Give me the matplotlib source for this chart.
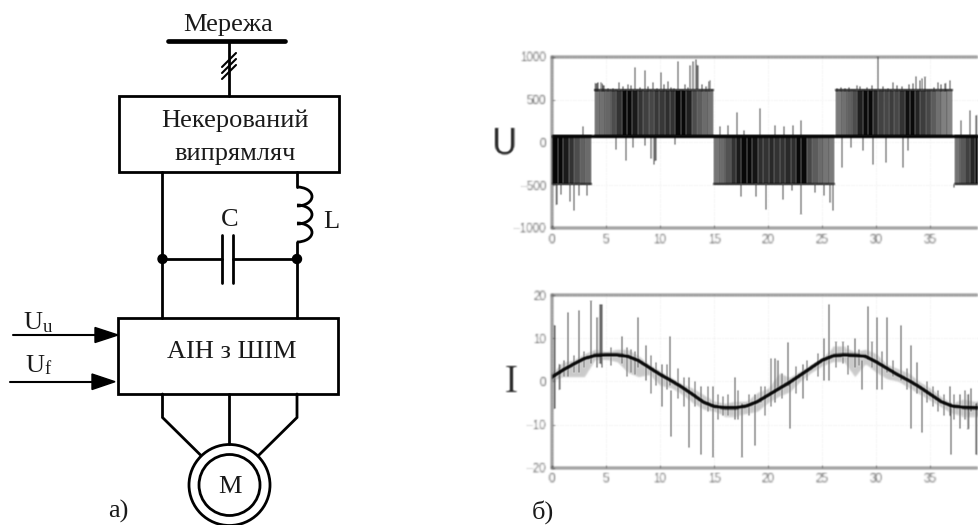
import numpy as np
import matplotlib
matplotlib.use("Agg")
import matplotlib.pyplot as plt
from matplotlib.patches import Arc, Circle, Polygon, Rectangle

W, H = 979, 525
SERIF = "Liberation Serif"
SANS = "Liberation Sans"

# voltage trace: dark PWM bands
u_band_start = [0.0, 3.95, 15.0, 26.3, 37.3]
u_band_end = [3.6, 14.9, 26.1, 37.0, 40.0]
u_band_low = [-490, 70, -490, 70, -490]
u_band_high = [70, 610, 70, 610, 70]
u_band_shades = [
    [0.02, 0.03, 0.1, 0.2, 0.3, 0.38, 0.42],
    [0.46, 0.44, 0.4, 0.3, 0.2, 0.03, 0.03, 0.1, 0.2, 0.25, 0.28, 0.22, 0.22, 0.18, 0.2, 0.03, 0.03, 0.12, 0.3, 0.36, 0.42, 0.45],
    [0.46, 0.42, 0.32, 0.2, 0.1, 0.03, 0.03, 0.08, 0.18, 0.2, 0.16, 0.2, 0.2, 0.16, 0.18, 0.03, 0.03, 0.28, 0.36, 0.42, 0.46, 0.48],
    [0.48, 0.44, 0.38, 0.3, 0.12, 0.04, 0.03, 0.16, 0.26, 0.28, 0.24, 0.28, 0.2, 0.06, 0.04, 0.14, 0.24, 0.28, 0.36, 0.44, 0.5, 0.52],
    [0.45, 0.35, 0.25, 0.15, 0.05, 0.03],
]
u_base_x = [0, 40]
u_base_y = [70, 70]

# voltage spikes, each from a band edge to a tip
u_spike_x = [4.5, 6.2, 7.0, 7.7, 8.6, 9.3, 10.1, 10.7, 11.7, 12.3, 12.8, 13.0, 13.3, 13.5, 14.6,
             15.5, 16.3, 17.1, 17.8, 19.2, 20.6, 21.5, 22.3, 23.0, 2.9,
             5.9, 6.8, 7.5, 8.6, 9.2, 9.4, 9.6, 11.4,
             0.5, 0.8, 1.7, 2.0, 2.5, 3.2,
             17.5, 18.9, 19.8, 21.4, 22.2, 23.0, 24.3, 25.2, 25.7, 26.0,
             28.2, 30.2, 31.5, 33.7, 34.2, 35.7, 36.8,
             26.8, 27.7, 28.8, 29.7, 30.9, 32.5, 32.9,
             37.8, 38.7, 39.2, 37.2]
u_spike_from = [610] * 15 + [70] * 10 + [70] * 8 + [-490] * 6 + [-490] * 10 + [610] * 7 + [70] * 7 + [70] * 3 + [-490]
u_spike_to = [700, 700, 680, 880, 850, 700, 820, 720, 950, 680, 900, 950, 970, 900, 730,
              190, 200, 360, 150, 400, 200, 190, 200, 265, 190,
              -90, -220, -70, -40, -200, -260, -220, -30,
              -730, -620, -700, -800, -630, -630,
              -640, -640, -790, -670, -570, -840, -590, -630, -710, -800,
              670, 1000, 710, 770, 750, 710, 730,
              -300, -70, -100, -260, -240, -300, -100,
              260, 380, 320, -530]

# short ragged marks along the band edges
u_small_x = [4.1, 4.3, 4.6, 4.8, 5.2, 5.6, 6.6, 7.3, 8.1, 8.9, 9.7, 10.4, 11.0, 11.3, 12.6, 13.9, 14.2, 14.5,
             26.4, 26.7, 27.1, 27.5, 28.5, 29.1, 29.6, 30.6, 31.1, 31.9, 32.4, 33.0, 33.4, 34.0, 34.5, 35.3, 36.0, 36.4]
u_small_to = [690, 700, 690, 670, 640, 630, 660, 670, 650, 660, 640, 680, 650, 640, 650, 680, 660, 720,
              640, 650, 640, 650, 660, 650, 670, 660, 640, 670, 660, 680, 690, 730, 760, 650, 680, 690]

# current: smooth fundamental
i_x = list(range(41))
i_y = [1, 2.6, 4, 5.3, 6, 6.1, 6.1, 5.8, 4.8, 3.2, 1.6, 0.2, -1.3, -3, -4.8, -5.8, -6.1, -6.1, -5.7, -4.7, -3.2,
       -1.7, -0.2, 1.5, 3.2, 4.9, 5.9, 6.1, 6, 5.8, 4.5, 3, 1.5, 0.2, -1.3, -3, -4.7, -5.7, -6, -6.1, -6.1]
i_fuzz_hi = [2, 4.5, 5, 6.5, 7.5, 7, 7.5, 7.5, 6, 4, 2.5, 1, -0.5, -1.5, -3, -4.5, -5, -4.5, -4.5, -2.5, -1.5,
             2, 1, 2.5, 4, 5.5, 8, 8, 7, 7.5, 6.5, 4, 3, 2, 0, -1.5, -3.5, -5, -4, -4.5, -4.5]
i_fuzz_lo = [0, 1, 1, 1, 5, 5, 4.5, 2, 1, 1.5, -1, -1.5, -3, -5, -6.5, -7, -8, -8, -7.5, -7, -5,
             -3.5, -2.5, 0, 2, 3.5, 4.5, 4.5, 1, 4, 2, 0.5, 0, -1.5, -3, -4.5, -6, -7.5, -8, -8, -8]

# current spikes
i_spike_x = [0.3, 1.5, 2.5, 3.6, 4.2, 4.4, 4.6, 6.5, 8.0, 8.7, 10.2, 10.9, 11.0,
             12.7, 13.8, 14.9, 16.9, 17.6, 18.8, 20.6, 20.9, 21.8, 22.0, 23.2,
             25.2, 25.6, 28.0, 28.7, 29.2, 30.1, 31.0, 32.3, 33.2, 33.8, 34.2,
             36.8, 36.9, 37.7, 38.8, 39.2]
i_spike_lo = [-6.5, 1, 2, 4, 3, 4, 3, 4, 3, 0, -6, -1, -13,
              -15.5, -17, -17.5, -9, -17.5, -15, -5, -2, -1, -11, -4,
              0, 0, 3, -2, 5, -2, 2, 0, -11, -3, -12,
              -8, -17, -11, -7, -17]
i_spike_hi = [13, 16, 16.5, 18.5, 15, 18, 18, 10.5, 15, 8.5, 4, 10.5, -2,
              1, -1, -1, 1, -5, -3, 5.5, 5, 9, 0, 4,
              10, 18, 10, 5, 17.5, 15, 15, 13, 8.5, 4.5, -2,
              -1, -5, -3, -1.5, -5]

# shorter current marks
i_small_x = [0.7, 1.1, 2.0, 3.0, 5.5, 6.9, 7.3, 7.7, 9.2, 9.6, 10.6, 11.7, 12.2, 13.2, 14.4, 15.4, 15.8, 16.3,
             17.2, 18.2, 19.3, 19.7, 20.3, 21.3, 22.6, 23.6, 24.6, 26.3, 26.9, 27.4, 28.4, 29.6, 30.5, 31.5, 32.8,
             34.7, 35.2, 35.7, 36.3, 37.2, 38.2, 38.5]
i_small_lo = [-2, 1, 2, 3, 3.5, 1, 2, 1.5, -3, -1, -2, -4, -6, -6, -7, -9, -8, -8,
              -9, -8, -5, -8, -6, -4, -3, 0, 1, 3, 4, 1.5, 3.5, 3, -2, 1, -2,
              -5, -6, -7, -8, -9, -9, -11]
i_small_hi = [4, 5, 6, 7, 8, 8, 7.5, 7, 6, 4.5, 4, 3, 1, 0, -1, -3, -3.5, -3,
              -2, -3, -1, -1, 5.5, 2, 3.5, 5, 6.5, 9, 9, 8.5, 7.5, 9, 7, 5, 3,
              0, -1, -2, -3, -3, -2, -3]

x_ticks = [0, 5, 10, 15, 20, 25, 30, 35, 40]
u_ticks = [-1000, -500, 0, 500, 1000]
i_ticks = [-20, -10, 0, 10, 20]


def blur(image, dpi):
    # soft look of the scanned plots
    pad = 2
    img = np.pad(image, ((pad, pad), (pad, pad), (0, 0)))
    kernel = np.array([1, 2, 1]) / 4
    for axis in (0, 1):
        img = np.apply_along_axis(lambda v: np.convolve(v, kernel, mode="same"), axis, img)
    return img, -pad, -pad


def style_axes(ax, yticks):
    ax.set_xlim(0, 40)
    ax.set_xticks(x_ticks)
    ax.set_yticks(yticks)
    ax.set_yticklabels([str(t).replace("-", "\u2212") for t in yticks])
    ax.tick_params(direction="in", length=2.5, width=0.8, color="#999999", labelcolor="#4f4f4f",
                   labelsize=8.3, pad=4)
    ax.grid(True, linestyle=":", linewidth=0.7, color="#bdbdbd")
    ax.set_axisbelow(True)
    for s in ax.spines.values():
        s.set_color("#7a7a7a")
        s.set_linewidth(1.1)
    for lab in ax.get_xticklabels() + ax.get_yticklabels():
        lab.set_fontfamily(SANS)
    for art in ax.get_children():
        art.set_agg_filter(blur)
    for lab in ax.get_xticklabels() + ax.get_yticklabels():
        lab.set_agg_filter(blur)


fig = plt.figure(figsize=(W / 100, H / 100), dpi=100)

# schematic in pixel coordinates
sk = fig.add_axes([0, 0, 1, 1])
sk.set_xlim(0, W)
sk.set_ylim(H, 0)
sk.axis("off")


def wire(xs, ys, lw=2.0):
    sk.plot(xs, ys, color="black", linewidth=lw, solid_capstyle="round", solid_joinstyle="miter")


def label(x, y, s, size=19):
    sk.text(x, y, s, ha="center", va="center", family=SERIF, fontsize=size, color="#1a1a1a")


wire([168, 285], [40.5, 40.5], lw=3.4)
wire([229.5, 229.5], [40.5, 96])
for y0 in (79, 73, 67):
    wire([222, 236], [y0, y0 - 14], lw=1.5)
label(228, 25, "Мережа")

sk.add_patch(Rectangle((119.5, 96), 219.5, 75.5, fill=False, edgecolor="black", linewidth=2.0))
label(235, 121, "Некерований")
label(235, 154, "випрямляч")

wire([162.5, 162.5], [171.5, 318])
wire([297, 297], [171.5, 187])
wire([297, 297], [242, 318])
for yc in (196.5, 214.5, 232.5):
    sk.add_patch(Arc((297, yc), 30, 19, theta1=-90, theta2=90, edgecolor="black", linewidth=2.0))
label(331, 222, "L")

wire([162.5, 222.5], [259, 259])
wire([233.5, 297], [259, 259])
wire([222.5, 222.5], [235, 283])
wire([233.5, 233.5], [235, 283])
label(230, 220, "С")
sk.add_patch(Circle((162.5, 259), 4.5, color="black", zorder=3))
sk.add_patch(Circle((297, 259), 4.5, color="black", zorder=3))

sk.add_patch(Rectangle((118.5, 318), 219.5, 76, fill=False, edgecolor="black", linewidth=2.0))
label(232, 352, "АІН з ШІМ")

wire([13, 96], [335, 335], lw=1.5)
sk.add_patch(Polygon([[118, 335], [95, 327.5], [95, 342.5]], color="black"))
wire([10, 93], [381.7, 381.7], lw=1.5)
sk.add_patch(Polygon([[115, 381.7], [92, 374], [92, 389.5]], color="black"))
label(32.5, 323, "U")
label(47, 327, "u", size=13.5)
label(35, 366, "U")
label(48, 370, "f", size=13.5)

wire([229.5, 229.5], [394, 444])
wire([162.5, 162.5, 200.5], [394, 417.5, 455])
wire([297, 297, 259], [394, 417.5, 455])
sk.add_patch(Circle((229.5, 485), 40.5, fill=False, edgecolor="black", linewidth=2.0))
sk.add_patch(Circle((229.5, 485), 30.5, fill=False, edgecolor="black", linewidth=2.0))
label(229.5, 487, "М")
label(118, 511, "а)")
label(543, 512, "б)")

sk.text(505, 143, "U", ha="center", va="center", family="DejaVu Sans", fontsize=25,
        color="#2b2b2b", agg_filter=blur)
sk.text(511, 383, "I", ha="center", va="center", family=SERIF, fontsize=28,
        color="#2b2b2b", agg_filter=blur)

# voltage plot, runs past the right edge of the picture
ax_u = fig.add_axes([552 / W, (H - 228) / H, 432.4 / W, 171.3 / H])
ax_u.patch.set_alpha(0)
ax_u.vlines(u_spike_x, u_spike_from, u_spike_to, color="#5e5e5e", linewidth=1.3)
ax_u.vlines(u_small_x, 600, u_small_to, color="#555555", linewidth=1.3)
for start, end, low, high, shades in zip(u_band_start, u_band_end, u_band_low, u_band_high, u_band_shades):
    step = (end - start) / len(shades)
    lefts = [start + k * step for k in range(len(shades))]
    ax_u.bar(lefts, high - low, width=step, bottom=low, align="edge",
             color=[str(s) for s in shades], linewidth=0)
    ax_u.plot([start, end], [low, low], color="#1c1c1c", linewidth=1.2)
    ax_u.plot([start, end], [high, high], color="#1c1c1c", linewidth=1.2)
ax_u.plot(u_base_x, u_base_y, color="#050505", linewidth=2.2)
ax_u.set_ylim(-1000, 1000)
style_axes(ax_u, u_ticks)

# current plot
ax_i = fig.add_axes([552 / W, (H - 467.7) / H, 432.4 / W, 172.7 / H])
ax_i.patch.set_alpha(0)
ax_i.fill_between(i_x, i_fuzz_lo, i_fuzz_hi, color="#a0a0a0", alpha=0.55, linewidth=0)
ax_i.vlines(i_small_x, i_small_lo, i_small_hi, color="#707070", linewidth=1.3)
ax_i.vlines(i_spike_x, i_spike_lo, i_spike_hi, color="#5e5e5e", linewidth=1.3)
ax_i.plot(i_x, i_y, color="#080808", linewidth=2.6, solid_joinstyle="round")
ax_i.set_ylim(-20, 20)
style_axes(ax_i, i_ticks)

fig.savefig("out.png", dpi=100)
